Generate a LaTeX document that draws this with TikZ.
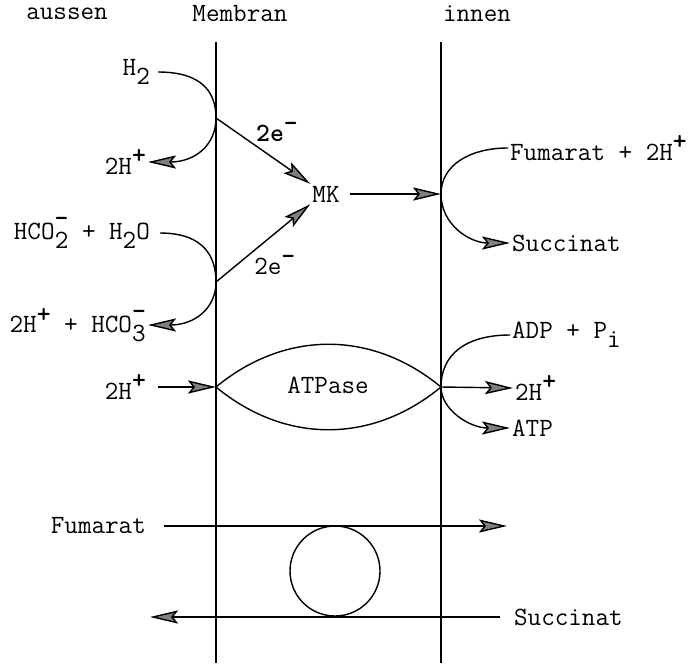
\documentclass[tikz,border=0pt]{standalone}
\usepackage{fontspec}
\usetikzlibrary{arrows.meta}
\newcommand{\hoch}[1]{\raisebox{0.9ex}{\bfseries #1}}
\newcommand{\tief}[1]{\raisebox{-0.75ex}{#1}}
\newcommand{\ion}[2]{\raisebox{-0.75ex}{\shortstack{\bfseries #2\\#1}}}
\tikzset{
  pfeil/.style={-{Stealth[length=16pt,width=7.5pt,inset=3pt,fill=black!50]}, line width=0.8pt},
  linie/.style={line width=0.8pt},
  membran/.style={line width=1.1pt},
  txt/.style={inner sep=1pt, font=\ttfamily\fontsize{15}{17}\selectfont},
}
\begin{document}
\begin{tikzpicture}[x=0.02cm,y=-0.02cm]
    \useasboundingbox (0,0) rectangle (689,663);
    % Ueberschriften
    \node[txt] (aussen) at (67,14) {aussen};
    \node[txt] (membran) at (240,14) {Membran};
    \node[txt] (innen) at (477,14) {innen};
    % Membran
    \coordinate (lo) at (216,42); \coordinate (lu) at (216,663);
    \coordinate (ro) at (441,42); \coordinate (ru) at (441,663);
    \draw[membran] (lo)--(lu);
    \draw[membran] (ro)--(ru);
    % Hydrogenase
    \node[txt,anchor=east] (h2) at (152,72) {H\tief{2}};
    \node[txt,anchor=east] (hplus) at (148,162) {2H\hoch{+}};
    \coordinate (hyd) at (216,118);
    \node[txt] (mk) at (326,194) {MK};
    \draw[pfeil] (h2.east) ++(6,0) .. controls (205,72) and (216,95) .. (hyd)
        .. controls (216,145) and (195,162) .. (hplus.east);
    \draw[pfeil] (hyd) -- (mk.north west) node[txt,pos=0.4,anchor=south west] {\textbf{2e\hoch{-}}};
    % Formiat-Dehydrogenase
    \node[txt,anchor=east] (formiat) at (152,233) {HCO\ion{2}{-} + H\tief{2}O};
    \node[txt,anchor=east] (hco3) at (148,325) {2H\hoch{+} + HCO\ion{3}{-}};
    \coordinate (fdh) at (216,282);
    \draw[pfeil] (formiat.east) ++(8,0) .. controls (205,233) and (216,258) .. (fdh)
        .. controls (216,308) and (195,325) .. (hco3.east);
    \draw[pfeil] (fdh) -- (mk.south west) node[txt,pos=0.38,anchor=north west] {2e\hoch{-}};
    % Fumarat-Reduktase
    \coordinate (frd) at (441,194);
    \draw[pfeil] (mk.east) ++(8,0) -- (frd);
    \node[txt,anchor=west] (fum) at (508,148) {Fumarat + 2H\hoch{+}};
    \node[txt,anchor=west] (succ) at (510,243) {Succinat};
    \draw[pfeil] (fum.west) .. controls (470,148) and (441,165) .. (frd)
        .. controls (441,225) and (470,243) .. (succ.west);
    % ATPase
    \node[txt,anchor=east] (hzu) at (148,387) {2H\hoch{+}};
    \coordinate (atl) at (216,387); \coordinate (atr) at (441,387);
    \draw[pfeil] (hzu.east) ++(10,0) -- (atl);
    \draw[linie] (atl) .. controls (285,330) and (372,330) .. (atr)
        .. controls (372,444) and (285,444) .. (atl);
    \node[txt] (atpase) at (328,385) {ATPase};
    \node[txt,anchor=west] (adp) at (510,335) {ADP + P\tief{i}};
    \node[txt,anchor=west] (hweg) at (513,388) {2H\hoch{+}};
    \node[txt,anchor=west] (atp) at (510,428) {ATP};
    \draw[pfeil] (adp.west) .. controls (465,335) and (441,355) .. (atr)
        .. controls (441,410) and (470,428) .. (atp.west);
    \draw[pfeil] (atr) -- (hweg.west);
    % Fumarat/Succinat-Antiport
    \node[txt,anchor=east] (fumaus) at (148,526) {Fumarat};
    \node[txt,anchor=west] (succin) at (512,617) {Succinat};
    \coordinate (fumin) at (507,526);
    \coordinate (succaus) at (150,617);
    \draw[pfeil] (fumaus.east) ++(16,0) -- (fumin);
    \draw[pfeil] (succin.west) ++(-12,0) -- (succaus);
    \node[draw,circle,line width=0.8pt,minimum size=90*0.02cm,inner sep=0pt] (carrier) at (335,571) {};
\end{tikzpicture}
\end{document}
